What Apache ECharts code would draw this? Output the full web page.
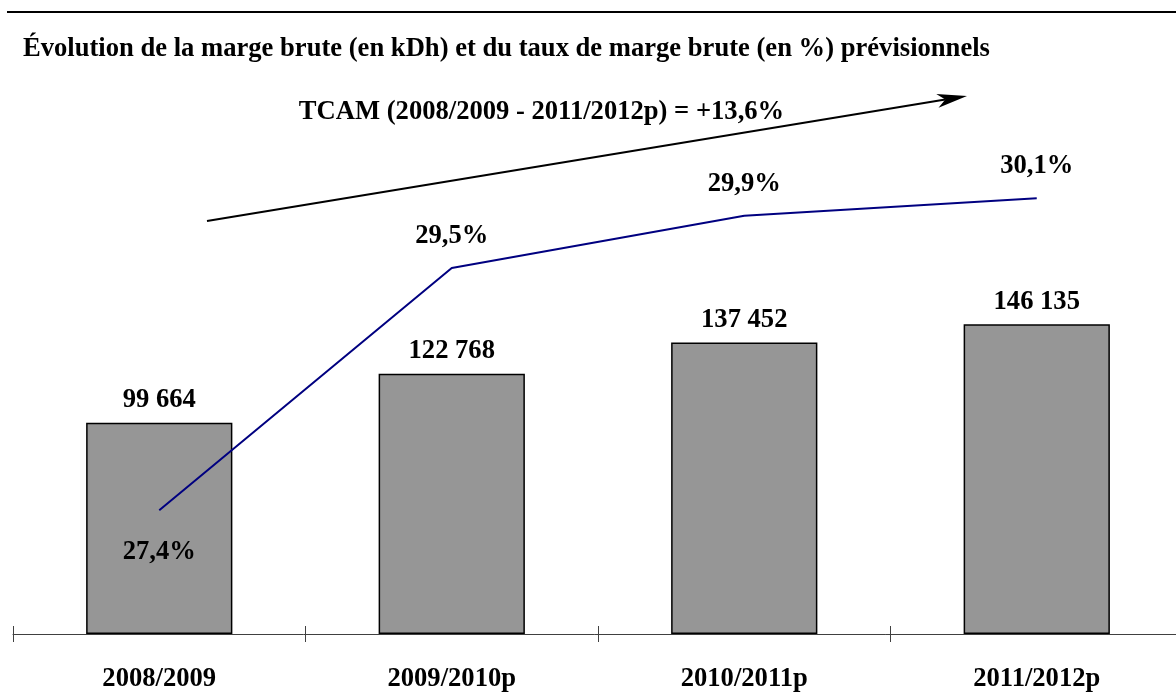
<!DOCTYPE html>
<html>
<head>
<meta charset="utf-8">
<script src="https://cdn.jsdelivr.net/npm/echarts@6/dist/echarts.min.js"></script>
<style>
html,body{margin:0;padding:0;background:#fff;}
#chart{width:1176px;height:694px;}
</style>
</head>
<body>
<div id="chart"></div>
<script>
const titleText = 'Évolution de la marge brute (en kDh) et du taux de marge brute (en %) prévisionnels';
const tcamText = 'TCAM (2008/2009 - 2011/2012p) = +13,6%';
const categories = ['2008/2009', '2009/2010p', '2010/2011p', '2011/2012p'];
const margeBrute = [99664, 122768, 137452, 146135];
const tauxMarge = [27.40, 29.48, 29.93, 30.08];

const FONT = '"Liberation Serif", "Times New Roman", serif';
const FS = 26.6;

function fmtThousands(v) {
  return String(v).replace(/\B(?=(\d{3})+(?!\d))/g, ' ');
}
function fmtPct(v) {
  return v.toFixed(1).replace('.', ',') + '%';
}

// arrow annotation geometry
const ax1 = 207, ay1 = 221, ax2 = 967, ay2 = 96;
const dx = ax2 - ax1, dy = ay2 - ay1, L = Math.sqrt(dx * dx + dy * dy);
const ux = dx / L, uy = dy / L, nx = -uy, ny = ux;
const headLen = 30, headW = 7, notch = 22;
const headPts = [
  [ax2, ay2],
  [ax2 - headLen * ux + headW * nx, ay2 - headLen * uy + headW * ny],
  [ax2 - notch * ux, ay2 - notch * uy],
  [ax2 - headLen * ux - headW * nx, ay2 - headLen * uy - headW * ny]
];

const chart = echarts.init(document.getElementById('chart'), null, { renderer: 'canvas' });
chart.setOption({
  animation: false,
  backgroundColor: '#ffffff',
  grid: { left: 13, right: -7, top: 104, bottom: 60, containLabel: false, outerBoundsMode: 'none' },
  xAxis: [
    {
      type: 'category',
      data: categories,
      position: 'bottom',
      boundaryGap: true,
      axisLine: { show: true, lineStyle: { color: '#404040', width: 1 } },
      axisTick: { show: true, inside: false, length: 8, lineStyle: { color: '#404040', width: 1 } },
      axisLabel: { show: true, margin: 32, fontFamily: FONT, fontSize: FS, fontWeight: 'bold', color: '#000' },
      splitLine: { show: false }
    },
    {
      type: 'category',
      data: categories,
      position: 'bottom',
      boundaryGap: true,
      axisLine: { show: false },
      axisTick: { show: true, inside: true, length: 8, lineStyle: { color: '#404040', width: 1 } },
      axisLabel: { show: false },
      splitLine: { show: false }
    }
  ],
  yAxis: [
    { type: 'value', min: 0, max: 250000, show: false, splitLine: { show: false } },
    { type: 'value', min: 26.337, max: 30.889, show: false, splitLine: { show: false } }
  ],
  series: [
    {
      type: 'bar',
      xAxisIndex: 0,
      yAxisIndex: 0,
      data: margeBrute,
      barWidth: '50%',
      itemStyle: { color: '#969696', borderColor: '#000', borderWidth: 1.5 },
      label: {
        show: true,
        position: 'top',
        distance: 9,
        formatter: p => fmtThousands(p.value),
        fontFamily: FONT, fontSize: FS, fontWeight: 'bold', color: '#000'
      }
    },
    {
      type: 'line',
      xAxisIndex: 0,
      yAxisIndex: 1,
      data: tauxMarge.map((v, i) => ({
        value: v,
        label: { position: i === 0 ? 'bottom' : 'top', distance: i === 0 ? 28 : 18 }
      })),
      symbol: 'circle',
      symbolSize: 1,
      showSymbol: true,
      itemStyle: { color: 'rgba(0,0,128,0)' },
      lineStyle: { color: '#000080', width: 2 },
      label: {
        show: true,
        formatter: p => fmtPct(p.value),
        fontFamily: FONT, fontSize: FS, fontWeight: 'bold', color: '#000'
      },
      labelLayout: { hideOverlap: false },
      z: 5
    }
  ],
  graphic: [
    {
      type: 'line',
      shape: { x1: 7, y1: 12, x2: 1176, y2: 12 },
      style: { stroke: '#000', lineWidth: 2 }
    },
    {
      type: 'text',
      left: 23, top: 36,
      style: { text: titleText, font: 'bold ' + FS + 'px ' + FONT, fill: '#000' }
    },
    {
      type: 'text',
      x: 541.5, y: 99,
      style: { text: tcamText, font: 'bold ' + FS + 'px ' + FONT, fill: '#000', align: 'center', verticalAlign: 'top' }
    },
    {
      type: 'line',
      shape: { x1: ax1, y1: ay1, x2: ax2 - notch * ux, y2: ay2 - notch * uy },
      style: { stroke: '#000', lineWidth: 2 }
    },
    {
      type: 'polygon',
      shape: { points: headPts },
      style: { fill: '#000' }
    }
  ]
});
</script>
</body>
</html>
